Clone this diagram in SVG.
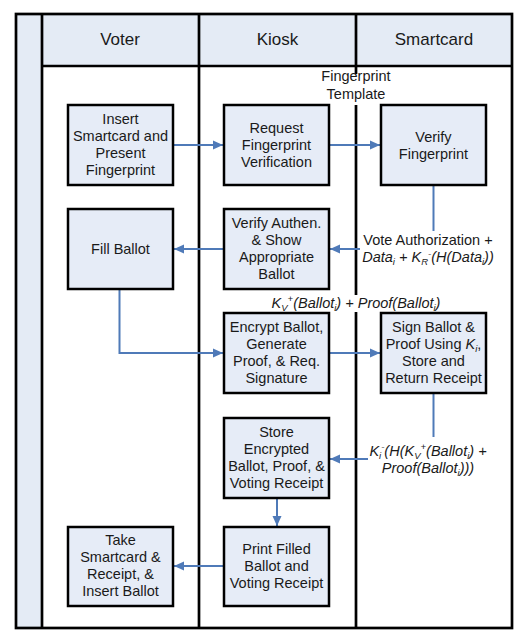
<svg xmlns="http://www.w3.org/2000/svg" width="521" height="637" viewBox="0 0 521 637">
<style>
text{font-family:"Liberation Sans",Arial,sans-serif;fill:#1a1a1a}
.h{font-size:17px;text-anchor:middle}
.t{font-size:14.5px;text-anchor:middle}
.i{font-style:italic}
.s{font-size:9.5px}
.box{fill:#e6ecf7;stroke:#000;stroke-width:2.5}
.frame{fill:none;stroke:#000;stroke-width:2.7}
.c{fill:none;stroke:#4f7ab8;stroke-width:2}
.a{marker-end:url(#ah)}
</style>
<defs>
<marker id="ah" viewBox="0 0 10 10" refX="10" refY="5" markerWidth="10" markerHeight="10" markerUnits="userSpaceOnUse" orient="auto">
<path d="M0,0.5 L10,5 L0,9.5 Z" fill="#4f7ab8"/>
</marker>
</defs>
<rect width="521" height="637" fill="#fff"/>
<g id="lanes">
<rect x="16" y="14" width="26" height="614" fill="#e4ebf5"/>
<rect x="42" y="14" width="470" height="52" fill="#e4ebf5"/>
<rect class="frame" x="16" y="14" width="496" height="614"/>
<line class="frame" x1="42" y1="14" x2="42" y2="628"/>
<line class="frame" x1="42" y1="66" x2="512" y2="66"/>
<line class="frame" x1="199" y1="14" x2="199" y2="628"/>
<line class="frame" x1="356" y1="14" x2="356" y2="628"/>
<text class="h" x="120" y="45">Voter</text>
<text class="h" x="277.5" y="45">Kiosk</text>
<text class="h" x="434" y="45">Smartcard</text>
</g>
<g id="connectors">
<path class="c a" d="M173,145 H223"/>
<path class="c a" d="M329,145 H380"/>
<path class="c" d="M433.5,185 V231"/>
<path class="c a" d="M360,249 H330"/>
<path class="c a" d="M224,249 H174"/>
<path class="c a" d="M119.5,289 V353 H223"/>
<path class="c a" d="M329,353 H380"/>
<path class="c" d="M433.5,393 V437"/>
<path class="c a" d="M368,459 H330"/>
<path class="c a" d="M277,498 V526"/>
<path class="c a" d="M224,566 H174"/>
</g>
<g id="labels">
<rect x="349" y="74" width="14" height="31" fill="#fff"/>
<text class="t" x="356" y="81">Fingerprint</text>
<text class="t" x="356" y="99">Template</text>
<text class="t" x="428" y="245">Vote Authorization +</text>
<text class="t i" x="428" y="262">Data<tspan class="s" dy="3">i</tspan><tspan dy="-3"> + K</tspan><tspan class="s" dy="3">R</tspan><tspan class="s" dy="-8">-</tspan><tspan dy="5">(H(Data</tspan><tspan class="s" dy="3">i</tspan><tspan dy="-3">))</tspan></text>
<rect x="349" y="295" width="14" height="17" fill="#fff"/>
<text class="t i" x="356" y="308">K<tspan class="s" dy="3">V</tspan><tspan class="s" dy="-9">+</tspan><tspan dy="6">(Ballot</tspan><tspan class="s" dy="3">i</tspan><tspan dy="-3">) + Proof(Ballot</tspan><tspan class="s" dy="3">i</tspan><tspan dy="-3">)</tspan></text>
<text class="t i" x="428" y="456">K<tspan class="s" dy="3">i</tspan><tspan class="s" dy="-9">-</tspan><tspan dy="6">(H(K</tspan><tspan class="s" dy="3">V</tspan><tspan class="s" dy="-9">+</tspan><tspan dy="6">(Ballot</tspan><tspan class="s" dy="3">i</tspan><tspan dy="-3">) +</tspan></text>
<text class="t i" x="428" y="473">Proof(Ballot<tspan class="s" dy="3">i</tspan><tspan dy="-3">)))</tspan></text>
</g>
<g id="n1">
<rect class="box" x="68" y="105" width="105" height="80"/>
<text class="t" x="120.5" y="123.5">Insert</text>
<text class="t" x="120.5" y="140.5">Smartcard and</text>
<text class="t" x="120.5" y="157.5">Present</text>
<text class="t" x="120.5" y="174.5">Fingerprint</text>
</g>
<g id="n2">
<rect class="box" x="224" y="105" width="105" height="80"/>
<text class="t" x="276.5" y="133">Request</text>
<text class="t" x="276.5" y="150">Fingerprint</text>
<text class="t" x="276.5" y="167">Verification</text>
</g>
<g id="n3">
<rect class="box" x="381" y="105" width="105" height="80"/>
<text class="t" x="433.5" y="141.5">Verify</text>
<text class="t" x="433.5" y="158.5">Fingerprint</text>
</g>
<g id="n4">
<rect class="box" x="68" y="209" width="105" height="80"/>
<text class="t" x="120.5" y="254">Fill Ballot</text>
</g>
<g id="n5">
<rect class="box" x="224" y="209" width="105" height="80"/>
<text class="t" x="276.5" y="228">Verify Authen.</text>
<text class="t" x="276.5" y="245">&amp; Show</text>
<text class="t" x="276.5" y="262">Appropriate</text>
<text class="t" x="276.5" y="279">Ballot</text>
</g>
<g id="n6">
<rect class="box" x="224" y="313" width="105" height="80"/>
<text class="t" x="276.5" y="332">Encrypt Ballot,</text>
<text class="t" x="276.5" y="349">Generate</text>
<text class="t" x="276.5" y="366">Proof, &amp; Req.</text>
<text class="t" x="276.5" y="383">Signature</text>
</g>
<g id="n7">
<rect class="box" x="381" y="313" width="105" height="80"/>
<text class="t" x="433.5" y="332">Sign Ballot &amp;</text>
<text class="t" x="433.5" y="349">Proof Using <tspan class="i">K</tspan><tspan class="s i" dy="3">i</tspan><tspan dy="-3">,</tspan></text>
<text class="t" x="433.5" y="366">Store and</text>
<text class="t" x="433.5" y="383">Return Receipt</text>
</g>
<g id="n8">
<rect class="box" x="224" y="418" width="105" height="80"/>
<text class="t" x="276.5" y="437">Store</text>
<text class="t" x="276.5" y="454">Encrypted</text>
<text class="t" x="276.5" y="471">Ballot, Proof, &amp;</text>
<text class="t" x="276.5" y="488">Voting Receipt</text>
</g>
<g id="n9">
<rect class="box" x="224" y="527" width="105" height="79"/>
<text class="t" x="276.5" y="554">Print Filled</text>
<text class="t" x="276.5" y="571">Ballot and</text>
<text class="t" x="276.5" y="588">Voting Receipt</text>
</g>
<g id="n10">
<rect class="box" x="68" y="527" width="105" height="79"/>
<text class="t" x="120.5" y="545">Take</text>
<text class="t" x="120.5" y="562">Smartcard &amp;</text>
<text class="t" x="120.5" y="579">Receipt, &amp;</text>
<text class="t" x="120.5" y="596">Insert Ballot</text>
</g>
</svg>
